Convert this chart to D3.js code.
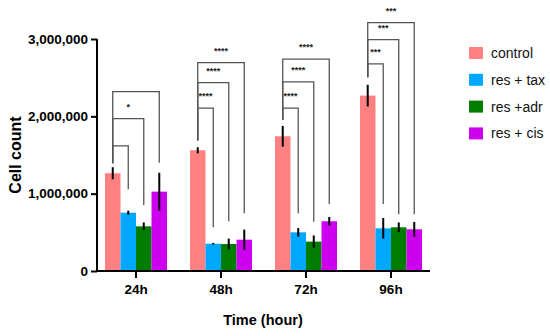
<!DOCTYPE html>
<html>
<head>
<meta charset="utf-8">
<script src="https://cdn.jsdelivr.net/npm/d3@7"></script>
<style>
  body { margin: 0; background: #fff; }
  text { font-family: "Liberation Sans", Arial, sans-serif; }
</style>
</head>
<body>
<div id="chart"></div>
<script>
/* chart data */
var times = ["24h", "48h", "72h", "96h"];
var groups = ["control", "res + tax", "res +adr", "res + cis"];
var colors = ["#ff8080", "#00a8ff", "#007d00", "#cc00ee"];

// mean cell counts per time, in group order
var means = [
    [1264000, 754000, 578000, 1026000],
    [1561000, 353000, 349000, 405000],
    [1742000, 500000, 380000, 643000],
    [2268000, 552000, 565000, 539000]
];
// error (± half length)
var errors = [
    [78000, 26000, 50000, 245000],
    [40000, 10000, 70000, 130000],
    [134000, 56000, 80000, 56000],
    [140000, 134000, 63000, 95000]
];

var yTicks = [0, 1000000, 2000000, 3000000];

/* significance brackets: control vs each treatment
   level = height of the bracket, drop = where the right leg stops */
var ctrlLegEnd = [1393000, 1686000, 1953000, 2506000];
var brackets = [
    {t: 0, g: 1, level: 1617000, drop: 1057000, label: ""},
    {t: 0, g: 2, level: 1970000, drop: 850000, label: "*"},
    {t: 0, g: 3, level: 2320000, drop: 1401000, label: ""},
    {t: 1, g: 1, level: 2105000, drop: 565000, label: "****"},
    {t: 1, g: 2, level: 2436000, drop: 643000, label: "****"},
    {t: 1, g: 3, level: 2695000, drop: 746000, label: "****"},
    {t: 2, g: 1, level: 2105000, drop: 746000, label: "****"},
    {t: 2, g: 2, level: 2445000, drop: 638000, label: "****"},
    {t: 2, g: 3, level: 2739000, drop: 867000, label: "****"},
    {t: 3, g: 1, level: 2678000, drop: 867000, label: "***"},
    {t: 3, g: 2, level: 2992000, drop: 733000, label: "***"},
    {t: 3, g: 3, level: 3212000, drop: 733000, label: "***"}
];

var width = 550, height = 336;
var margin = {top: 39, left: 97, right: 120, bottom: 65};

var svg = d3.select("#chart").append("svg")
    .attr("width", width)
    .attr("height", height);

var x = d3.scaleBand()
    .domain(times)
    .range([margin.left, width - margin.right])
    .paddingInner(0.27)
    .paddingOuter(0.094);

var xInner = d3.scaleBand()
    .domain(groups)
    .range([0, x.bandwidth()]);

var y = d3.scaleLinear()
    .domain([0, 3000000])
    .range([height - margin.bottom, margin.top]);

function cx(t, g) {
    return x(times[t]) + xInner(groups[g]) + xInner.bandwidth() / 2;
}

/* bars */
var rows = [];
means.forEach(function (row, t) {
    row.forEach(function (v, g) {
        rows.push({t: t, g: g, v: v, e: errors[t][g]});
    });
});

svg.selectAll(".bar")
    .data(rows)
    .enter().append("rect")
    .attr("class", "bar")
    .attr("x", d => x(times[d.t]) + xInner(groups[d.g]))
    .attr("width", xInner.bandwidth())
    .attr("y", d => y(d.v))
    .attr("height", d => y(0) - y(d.v))
    .attr("fill", d => colors[d.g]);

/* error bars */
svg.selectAll(".err")
    .data(rows)
    .enter().append("line")
    .attr("class", "err")
    .attr("x1", d => cx(d.t, d.g))
    .attr("x2", d => cx(d.t, d.g))
    .attr("y1", d => y(d.v - d.e))
    .attr("y2", d => y(d.v + d.e))
    .attr("stroke", "#000")
    .attr("stroke-width", 2);

/* brackets */
var bg = svg.append("g")
    .attr("fill", "none")
    .attr("stroke", "#555")
    .attr("stroke-width", 1.3);

brackets.forEach(function (b) {
    var x0 = cx(b.t, 0), x1 = cx(b.t, b.g);
    bg.append("path")
        .attr("d", "M" + x0 + "," + y(ctrlLegEnd[b.t]) +
            "V" + y(b.level) + "H" + x1 + "V" + y(b.drop));
    if (b.label) {
        svg.append("text")
            .attr("x", (x0 + x1) / 2)
            .attr("y", y(b.level) - 9)
            .attr("text-anchor", "middle")
            .attr("font-size", 9)
            .attr("font-weight", "bold")
            .attr("fill", "#222")
            .text(b.label);
    }
});

/* axes */
var yAxis = svg.append("g")
    .attr("transform", "translate(" + margin.left + ",0)")
    .call(d3.axisLeft(y).tickValues(yTicks).tickSize(6).tickPadding(3)
        .tickFormat(d3.format(",")));

var xAxis = svg.append("g")
    .attr("transform", "translate(0," + y(0) + ")")
    .call(d3.axisBottom(x).tickSize(7).tickPadding(6));

[yAxis, xAxis].forEach(function (a) {
    a.select(".domain").attr("stroke", "#000").attr("stroke-width", 2);
    a.selectAll(".tick line").attr("stroke", "#000").attr("stroke-width", 2);
    a.selectAll(".tick text")
        .attr("font-size", 13.5)
        .attr("font-weight", "bold")
        .attr("fill", "#000")
        .style("font-family", "'Liberation Sans', Arial, sans-serif");
});
xAxis.select(".domain").attr("d", "M" + margin.left + ",0H" + (width - margin.right));
yAxis.select(".domain").attr("d", "M0," + y(0) + "V" + y(3000000));

/* axis titles */
svg.append("text")
    .attr("transform", "translate(21," + (y(0) + y(3000000)) / 2 + ") rotate(-90)")
    .attr("text-anchor", "middle")
    .attr("font-size", 16)
    .attr("font-weight", "bold")
    .text("Cell count");

svg.append("text")
    .attr("x", 263)
    .attr("y", 325)
    .attr("text-anchor", "middle")
    .attr("font-size", 14.5)
    .attr("font-weight", "bold")
    .text("Time (hour)");

/* legend */
var legend = svg.selectAll(".legend")
    .data(groups)
    .enter().append("g")
    .attr("class", "legend")
    .attr("transform", (d, i) => "translate(469," + (47 + i * 26.8) + ")");

legend.append("rect")
    .attr("width", 14)
    .attr("height", 12)
    .attr("fill", (d, i) => colors[i]);

legend.append("text")
    .attr("x", 22)
    .attr("y", 6)
    .attr("dy", "0.35em")
    .attr("font-size", 14)
    .attr("fill", "#111")
    .text(d => d);
</script>
</body>
</html>
